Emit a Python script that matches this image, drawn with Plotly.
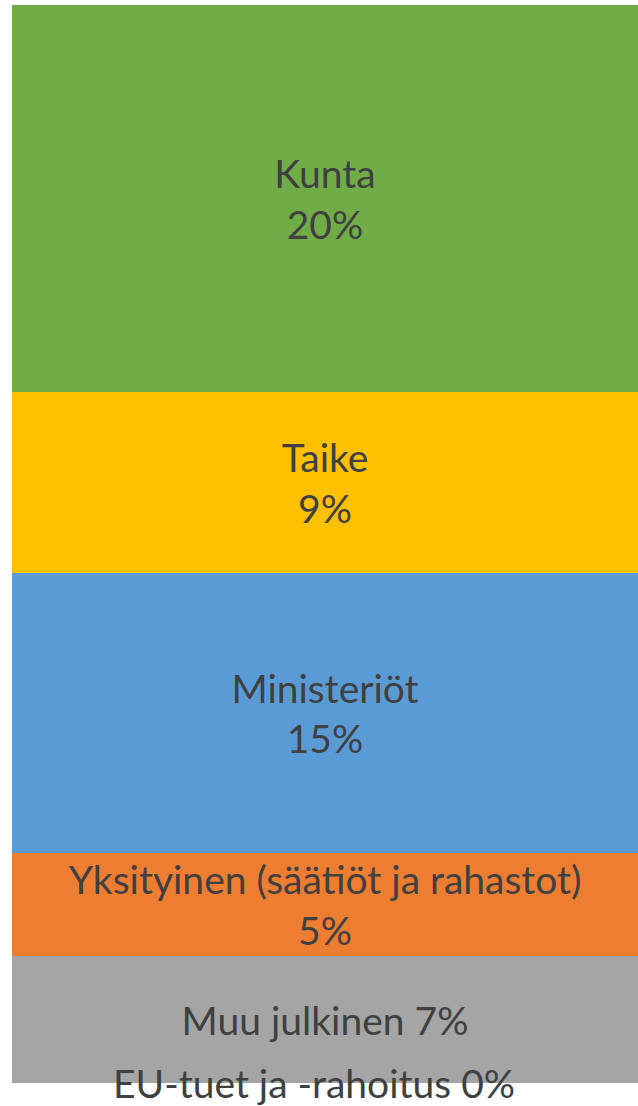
import plotly.graph_objects as go

# Data (bottom to top)
categories = ["EU-tuet ja -rahoitus", "Muu julkinen", "Yksityinen (säätiöt ja rahastot)",
              "Ministeriöt", "Taike", "Kunta"]
values = [0.0, 6.6, 5.4, 14.6, 9.4, 20.2]
colors = ["#4472C4", "#A5A5A5", "#ED7D31", "#5B9BD5", "#FFC000", "#70AD47"]
label_sep = ["<br>", " ", "<br>", "<br>", "<br>", "<br>"]

FONT = "Lato, Carlito, sans-serif"
TXT = "#404040"
FS = 39

fig = go.Figure()
for cat, v, c, sep in zip(categories, values, colors, label_sep):
    if v <= 0:
        continue
    fig.add_trace(go.Bar(
        x=["a"], y=[v], name=cat,
        marker=dict(color=c, line=dict(width=0)),
        text=[f"{cat}{sep}{v:.0f}%"],
        textposition="inside", insidetextanchor="middle",
        textfont=dict(family=FONT, size=FS, color=TXT),
        constraintext="none",
        hoverinfo="skip",
    ))

# zero-valued category shown as a label at its (zero) position
for cat, v in zip(categories, values):
    if v <= 0:
        fig.add_annotation(x="a", y=v, text=f"{cat} {v:.0f}%", showarrow=False,
                           yanchor="middle", xshift=-11, yshift=0,
                           font=dict(family=FONT, size=FS, color=TXT))

total = sum(values)
fig.update_layout(
    width=638, height=1106,
    margin=dict(l=12, r=0, t=5, b=23),
    barmode="stack", bargap=0,
    showlegend=False,
    paper_bgcolor="white", plot_bgcolor="white",
    xaxis=dict(visible=False),
    yaxis=dict(visible=False, range=[0, total]),
    uniformtext=dict(mode=False),
)
fig.write_html("out.html", config={"displayModeBar": False},
               post_script="document.body.style.margin='0';document.body.style.overflow='hidden';")
